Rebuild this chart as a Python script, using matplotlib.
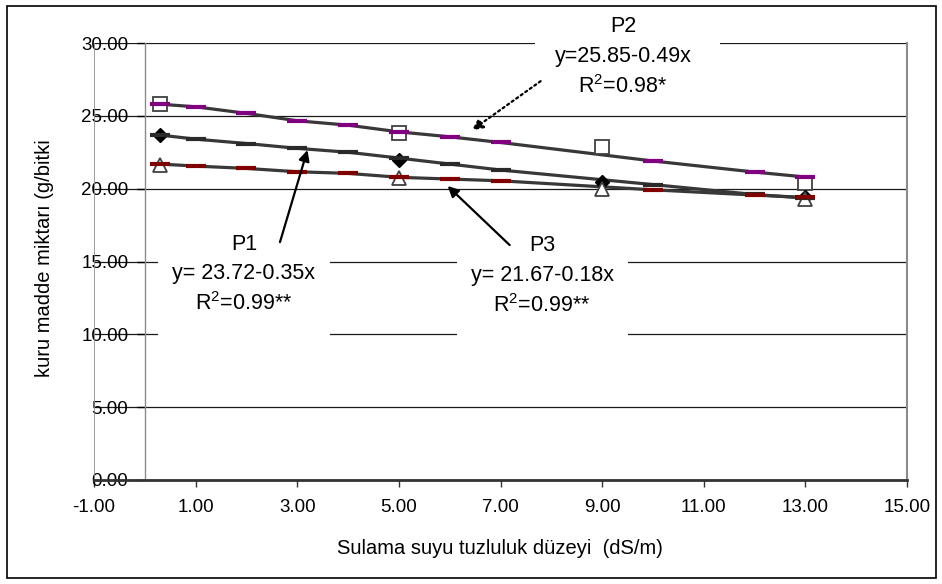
import matplotlib

matplotlib.use("Agg")
import matplotlib.pyplot as plt
from matplotlib.patches import Rectangle

plt.rcParams["font.family"] = ["Liberation Sans", "DejaVu Sans"]
plt.rcParams["mathtext.fontset"] = "custom"
plt.rcParams["mathtext.rm"] = "Liberation Sans"
plt.rcParams["axes.unicode_minus"] = False

# fitted series (dash markers)
x_fit = [0.3, 1, 2, 3, 4, 5, 6, 7, 10, 12, 13]
p1_fit = [23.68, 23.40, 23.10, 22.77, 22.50, 22.10, 21.69, 21.28, 20.28, 19.60, 19.35]
p2_fit = [25.80, 25.62, 25.17, 24.66, 24.36, 23.90, 23.56, 23.17, 21.90, 21.14, 20.80]
p3_fit = [21.69, 21.55, 21.39, 21.16, 21.05, 20.78, 20.66, 20.54, 19.92, 19.56, 19.40]

# observed values
x_obs = [0.3, 5, 9, 13]
p1_obs = [23.70, 22.00, 20.45, 19.40]
p2_obs = [25.80, 23.80, 22.85, 20.40]
p3_obs = [21.65, 20.75, 20.00, 19.30]

x_ticks = [-1, 1, 3, 5, 7, 9, 11, 13, 15]
y_ticks = [0, 5, 10, 15, 20, 25, 30]

LINE = "#383838"
BORDER = "#8c8c8c"

fig = plt.figure(figsize=(9.42, 5.84), dpi=100)
ax = fig.add_axes([94 / 942, 104 / 584, 813 / 942, 437 / 584])
ax.set_xlim(-1, 15)
ax.set_ylim(0, 30)

# outer chart frame
fig.patches.append(Rectangle((7 / 942, 6 / 584), 929 / 942, 572 / 584, transform=fig.transFigure,
                             fill=False, edgecolor="black", linewidth=1.2))

# y axis crosses at x = 0 (set before tick labels, it resets the ticks)
ax.spines["left"].set_position(("data", 0))
ax.spines["left"].set_color(BORDER)
ax.spines["left"].set_linewidth(1.0)
ax.spines["right"].set_color(BORDER)
ax.spines["right"].set_linewidth(1.5)
ax.spines["top"].set_visible(False)
ax.spines["bottom"].set_color("#333333")
ax.spines["bottom"].set_linewidth(2.0)
ax.axvline(-1, color=BORDER, linewidth=1.2, zorder=1)

ax.set_yticks(y_ticks)
ax.set_xticks(x_ticks)
ax.set_yticklabels([f"{v:.2f}" for v in y_ticks])
ax.set_xticklabels([f"{v:.2f}" for v in x_ticks])
ax.tick_params(axis="y", direction="out", length=5.8, width=1.0, pad=6.0, color="black",
               labelsize=13.5)
ax.tick_params(axis="x", direction="out", length=5.0, width=1.0, pad=9.0, color="#333333",
               labelsize=13.5)
ax.grid(axis="y", color="#1a1a1a", linewidth=0.9)
ax.set_axisbelow(True)

# lines with dash markers
for ys, mc in [(p1_fit, "#2a2a2a"), (p2_fit, "#800080"), (p3_fit, "#800000")]:
    ax.plot(x_fit, ys, color=LINE, linewidth=2.3, zorder=3)
    ax.plot(x_fit, ys, linestyle="none", marker="_", markersize=14.5, markeredgewidth=3.0,
            markeredgecolor=mc, zorder=5)

# observed points
ax.plot(x_obs, p2_obs, linestyle="none", marker="s", markersize=9.5, markerfacecolor="white",
        markeredgecolor="#404040", markeredgewidth=1.3, zorder=4)
ax.plot(x_obs, p1_obs, linestyle="none", marker="D", markersize=7.5, markerfacecolor="black",
        markeredgecolor="black", zorder=4)
ax.plot(x_obs, p3_obs, linestyle="none", marker="^", markersize=10.5, markerfacecolor="white",
        markeredgecolor="#404040", markeredgewidth=1.3, zorder=4)

# white label boxes
for x0, y0, w, h in [(7.67, 26.1, 3.64, 6.3), (0.25, 9.0, 3.39, 8.3), (6.14, 9.0, 3.36, 8.3)]:
    ax.add_patch(Rectangle((x0, y0), w, h, facecolor="white", edgecolor="none", zorder=2.6,
                           clip_on=False))

labels = [
    ("P2", "y=25.85-0.49x", r"R$^{2}$=0.98*", 9.41, 31.1),
    ("P1", "y= 23.72-0.35x", r"R$^{2}$=0.99**", 1.95, 16.2),
    ("P3", "y= 21.67-0.18x", r"R$^{2}$=0.99**", 7.82, 16.1),
]
for name, eq, r2, tx, ty in labels:
    for i, s in enumerate([name, eq, r2]):
        ax.text(tx, ty - i * 2.05, s, ha="center", va="center", fontsize=15.5, zorder=6,
                clip_on=False)

ax.annotate("", xy=(6.44, 24.02), xytext=(7.79, 27.38),
            arrowprops=dict(arrowstyle="-|>", linestyle=(0, (1, 1.5)), color="black", lw=1.6,
                            mutation_scale=16, shrinkA=0, shrinkB=0), zorder=6)
ax.annotate("", xy=(3.20, 22.65), xytext=(2.66, 16.33),
            arrowprops=dict(arrowstyle="-|>", color="black", lw=1.6, mutation_scale=16,
                            shrinkA=0, shrinkB=0), zorder=6)
ax.annotate("", xy=(5.96, 20.18), xytext=(7.18, 16.13),
            arrowprops=dict(arrowstyle="-|>", color="black", lw=1.6, mutation_scale=16,
                            shrinkA=0, shrinkB=0), zorder=6)

fig.text(500 / 942, 1 - 548 / 584, "Sulama suyu tuzluluk düzeyi  (dS/m)", ha="center",
         va="center", fontsize=14.5)
fig.text(45 / 942, 1 - 258 / 584, "kuru madde miktarı (g/bitki", ha="center", va="center",
         rotation=90, fontsize=14.5)

fig.savefig("out.png", dpi=100)
